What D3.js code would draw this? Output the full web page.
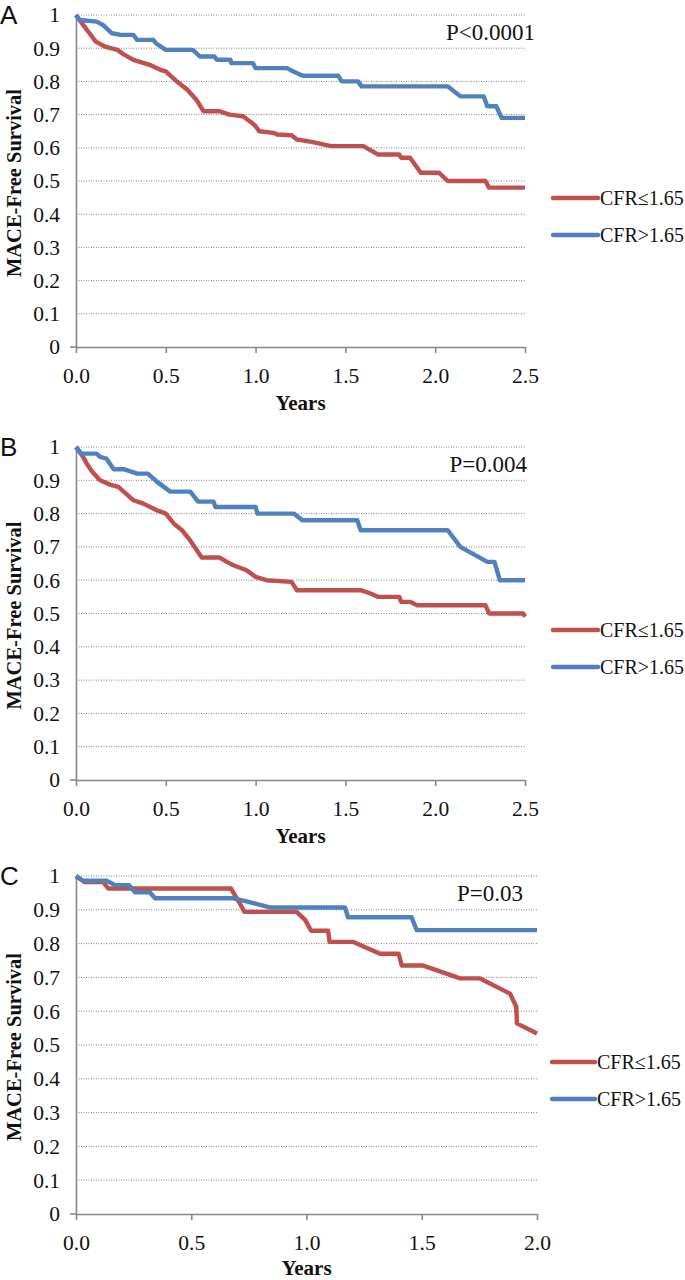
<!DOCTYPE html>
<html><head><meta charset="utf-8">
<script src="https://cdn.jsdelivr.net/npm/d3@7/dist/d3.min.js"></script>
<style>
html,body{margin:0;padding:0;background:#fff;}
svg{display:block;}
</style></head>
<body>
<script>
// ---- Data (years, MACE-free survival) ----
const seriesNames = ["CFR\u22641.65", "CFR>1.65"];
const yTicks = [0,0.1,0.2,0.3,0.4,0.5,0.6,0.7,0.8,0.9,1];
const xTicksAB = [0,0.5,1.0,1.5,2.0,2.5];
const xTicksC = [0,0.5,1.0,1.5,2.0];
const pValues = ["P<0.0001","P=0.004","P=0.03"];
const panelLetters = ["A","B","C"];

const aLow = [[0,1],[0.02,0.985],[0.047,0.965],[0.075,0.945],[0.11,0.92],[0.16,0.905],[0.23,0.895],[0.27,0.88],[0.32,0.865],[0.41,0.85],[0.47,0.835],[0.5,0.83],[0.55,0.805],[0.62,0.775],[0.67,0.745],[0.71,0.71],[0.8,0.71],[0.855,0.70],[0.93,0.695],[0.98,0.675],[1.0,0.665],[1.02,0.65],[1.1,0.645],[1.12,0.64],[1.2,0.638],[1.23,0.625],[1.32,0.617],[1.42,0.605],[1.6,0.605],[1.68,0.58],[1.8,0.58],[1.81,0.57],[1.86,0.57],[1.92,0.525],[2.02,0.525],[2.05,0.51],[2.07,0.50],[2.28,0.50],[2.3,0.48],[2.5,0.48]];
const aHigh = [[0,1],[0.02,0.985],[0.115,0.98],[0.15,0.97],[0.2,0.945],[0.25,0.94],[0.32,0.94],[0.34,0.925],[0.43,0.925],[0.445,0.915],[0.5,0.895],[0.65,0.895],[0.69,0.875],[0.77,0.875],[0.785,0.865],[0.86,0.865],[0.865,0.855],[0.985,0.855],[1.0,0.84],[1.175,0.84],[1.21,0.83],[1.25,0.82],[1.27,0.817],[1.46,0.817],[1.48,0.80],[1.57,0.80],[1.59,0.785],[2.07,0.785],[2.14,0.755],[2.27,0.755],[2.29,0.725],[2.34,0.725],[2.37,0.69],[2.5,0.69]];
const bLow = [[0,1],[0.04,0.97],[0.06,0.95],[0.09,0.926],[0.134,0.90],[0.19,0.887],[0.236,0.88],[0.32,0.84],[0.375,0.83],[0.45,0.81],[0.5,0.80],[0.545,0.77],[0.59,0.75],[0.635,0.72],[0.70,0.668],[0.80,0.668],[0.84,0.655],[0.876,0.645],[0.95,0.63],[1.0,0.61],[1.06,0.60],[1.2,0.595],[1.23,0.57],[1.585,0.57],[1.64,0.56],[1.68,0.55],[1.8,0.55],[1.81,0.535],[1.86,0.535],[1.9,0.525],[2.28,0.525],[2.3,0.50],[2.49,0.50],[2.5,0.49]];
const bHigh = [[0,1],[0.03,0.98],[0.115,0.98],[0.134,0.97],[0.17,0.965],[0.21,0.933],[0.27,0.933],[0.34,0.92],[0.40,0.92],[0.45,0.896],[0.525,0.866],[0.636,0.866],[0.68,0.836],[0.766,0.836],[0.776,0.82],[1.0,0.82],[1.01,0.80],[1.213,0.80],[1.26,0.78],[1.566,0.78],[1.585,0.75],[2.07,0.75],[2.14,0.70],[2.29,0.655],[2.33,0.655],[2.36,0.60],[2.5,0.60]];
const cLow = [[0,1],[0.038,0.982],[0.118,0.982],[0.14,0.963],[0.672,0.963],[0.71,0.92],[0.73,0.894],[0.957,0.894],[0.994,0.87],[1.02,0.838],[1.094,0.838],[1.10,0.805],[1.203,0.805],[1.319,0.77],[1.40,0.77],[1.413,0.735],[1.507,0.735],[1.666,0.697],[1.753,0.697],[1.883,0.652],[1.91,0.613],[1.913,0.564],[2.0,0.534]];
const cHigh = [[0,1],[0.03,0.986],[0.133,0.986],[0.17,0.973],[0.23,0.973],[0.256,0.952],[0.32,0.952],[0.343,0.934],[0.682,0.934],[0.74,0.925],[0.84,0.907],[1.167,0.907],[1.18,0.878],[1.456,0.878],[1.478,0.84],[2.0,0.84]];

// ---- Layout ----
const W = 685, H = 1280;
const colors = ["#C0504D", "#4F81BD"];
const serif = "'Liberation Serif','Times New Roman',serif";
const panels = [
  {low:aLow, high:aHigh, xmax:2.5, ticks:xTicksAB, top:15, bot:347, left:76, right:525, legY:198, legX:553, legW:45, pX:535, titleDy:63},
  {low:bLow, high:bHigh, xmax:2.5, ticks:xTicksAB, top:447, bot:780, left:76, right:525, legY:630, legX:553, legW:45, pX:527, titleDy:63},
  {low:cLow, high:cHigh, xmax:2.0, ticks:xTicksC, top:876, bot:1214, left:76, right:537, legY:1062, legX:552, legW:43, pX:523, titleDy:61}
];

const svg = d3.select("body").append("svg").attr("width", W).attr("height", H);

panels.forEach((p, i) => {
  const g = svg.append("g");
  const x = d3.scaleLinear().domain([0, p.xmax]).range([p.left, p.right]);
  const y = d3.scaleLinear().domain([0, 1]).range([p.bot, p.top]);

  // gridlines
  g.selectAll(".grid").data(yTicks.filter(v => v > 0)).enter().append("line")
    .attr("x1", p.left).attr("x2", p.right)
    .attr("y1", d => y(d)).attr("y2", d => y(d))
    .attr("stroke", "#808080").attr("stroke-width", 1).attr("stroke-dasharray", "1,1.5");

  // y axis
  const yAxis = d3.axisLeft(y).tickValues(yTicks).tickSize(0).tickPadding(16)
    .tickFormat(d => d === 0 ? "0" : d === 1 ? "1" : d3.format(".1f")(d));
  const ya = g.append("g").attr("transform", `translate(${p.left},0)`).call(yAxis);
  ya.select(".domain").attr("stroke", "#888").attr("stroke-width", 1.6);
  ya.selectAll("text").attr("font-family", serif).attr("font-size", 21.5).attr("fill", "#111");

  // x axis
  const xAxis = d3.axisBottom(x).tickValues(p.ticks).tickSize(6).tickSizeOuter(0).tickPadding(15)
    .tickFormat(d3.format(".1f"));
  const xa = g.append("g").attr("transform", `translate(0,${p.bot})`).call(xAxis);
  xa.select(".domain").attr("stroke", "#888").attr("stroke-width", 1.6);
  xa.selectAll(".tick line").attr("stroke", "#888").attr("stroke-width", 1.6);
  xa.selectAll("text").attr("font-family", serif).attr("font-size", 21.5).attr("fill", "#111");
  g.append("line").attr("x1", p.left - 6).attr("x2", p.left).attr("y1", p.bot).attr("y2", p.bot)
    .attr("stroke", "#888").attr("stroke-width", 1.6);

  // x axis title
  g.append("text").attr("x", (p.left + p.right) / 2).attr("y", p.bot + p.titleDy)
    .attr("text-anchor", "middle").attr("font-family", serif).attr("font-weight", "bold")
    .attr("font-size", 21).attr("fill", "#111").text("Years");

  // y axis title
  g.append("text").attr("transform", `translate(21,${(p.top + p.bot) / 2 + 2}) rotate(-90)`)
    .attr("text-anchor", "middle").attr("font-family", serif).attr("font-weight", "bold")
    .attr("font-size", 20.5).attr("fill", "#111").text("MACE-Free Survival");

  // panel letter
  g.append("text").attr("x", 0).attr("y", p.top + 9).attr("font-family", "'Liberation Sans',Arial,sans-serif")
    .attr("font-size", 26).attr("fill", "#111").text(panelLetters[i]);

  // p value
  g.append("text").attr("x", p.pX).attr("y", p.top + 25)
    .attr("text-anchor", "end").attr("font-family", serif).attr("font-size", 23).attr("fill", "#111")
    .text(pValues[i]);

  // curves
  const line = d3.line().x(d => x(d[0])).y(d => y(d[1]));
  [p.low, p.high].forEach((data, k) => {
    g.append("path").datum(data).attr("d", line).attr("fill", "none")
      .attr("stroke", colors[k]).attr("stroke-width", 4.4)
      .attr("stroke-linejoin", "round").attr("stroke-linecap", "butt");
  });

  // legend
  seriesNames.forEach((name, k) => {
    const ly = p.legY + k * 37;
    g.append("line").attr("x1", p.legX).attr("x2", p.legX + p.legW).attr("y1", ly).attr("y2", ly)
      .attr("stroke", colors[k]).attr("stroke-width", 4.4).attr("stroke-linecap", "round");
    g.append("text").attr("x", p.legX + p.legW + 2).attr("y", ly + 7)
      .attr("font-family", serif).attr("font-size", 20).attr("fill", "#111").text(name);
  });
});
</script>
</body></html>
